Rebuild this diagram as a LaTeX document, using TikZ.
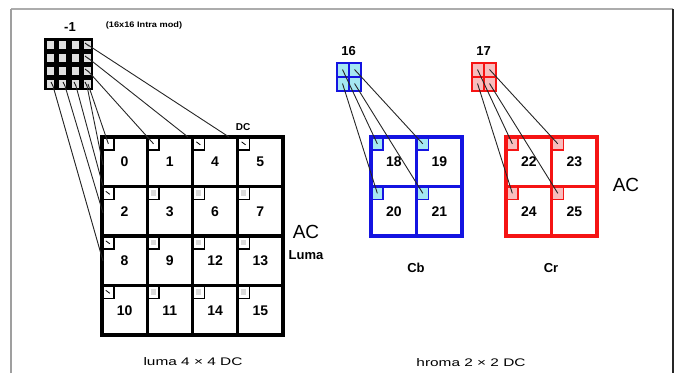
\documentclass[tikz,border=0pt]{standalone}
\usepackage{fontspec}
\setmainfont{Liberation Sans}
\definecolor{cbblue}{RGB}{20,20,225}
\definecolor{cbfill}{RGB}{165,232,242}
\definecolor{crred}{RGB}{245,20,20}
\definecolor{crfill}{RGB}{248,190,190}
\begin{document}
\begin{tikzpicture}[x=1pt,y=-1pt,
  num/.style={font=\fontsize{14}{16}\selectfont\bfseries, inner sep=0pt},
  gridline/.style={line width=3.2pt},
  cornerbox/.style={draw, line width=1.7pt, minimum width=11pt, minimum height=12pt, inner sep=0pt, anchor=north west},
  conn/.style={line width=0.9pt, black!85},
  tick/.style={line width=0.8pt, black},
  caption/.style={font=\fontsize{11}{13}\selectfont, inner sep=0pt}]
\useasboundingbox (0,0) rectangle (682,373);

% frame
\draw[gray!65, line width=1.2pt] (11,9) -- (673,9);
\draw[gray!75, line width=2pt] (11,373) -- (11,9);
\draw[black!85, line width=1.5pt] (673,9) -- (673,373);

% ---------- luma: 16x16 intra block (-1) ----------
\fill[black] (44,38) rectangle (93,90);
\foreach \r in {0,...,3} {
  \foreach \c in {0,...,3} {
    \fill[gray!25] (47+\c*12.25,41+\r*13) rectangle ++(7,7.5);
  }
}
% start points of the DC links
\coordinate (sr0) at (88,45);
\coordinate (sr1) at (88,58);
\coordinate (sr2) at (88,71);
\coordinate (sr3) at (88,84);
\coordinate (sb0) at (53,86);
\coordinate (sb1) at (65,86);
\coordinate (sb2) at (76,86);
\coordinate (sb3) at (87,86);
\foreach \p in {sr0,sr1,sr2} \draw[tick] (\p) ++(-3,-2) -- ++(4,3);
\foreach \p in {sb0,sb1,sb2,sb3} \draw[tick] (\p) ++(-2,-4) -- ++(2,4);

\node[font=\fontsize{13}{15}\selectfont\bfseries] (m1) at (70,27) {-1};
\node[font=\fontsize{8}{10}\selectfont\bfseries, xscale=1.15] (intra) at (144,25) {(16x16 Intra mod)};

% ---------- luma 4x4 DC grid ----------
\foreach \n [count=\i from 0] in {0,1,4,5,2,3,6,7,8,9,12,13,10,11,14,15} {
  \pgfmathtruncatemacro\r{int(\i/4)}
  \pgfmathtruncatemacro\c{mod(\i,4)}
  \pgfmathsetmacro\x{102+\c*45.25}
  \pgfmathsetmacro\y{137+\r*49.5}
  \node[num] (L\n) at (\x+22.6,\y+24.9) {\n};
  \node[cornerbox] (b\n) at (\x,\y) {};
  \ifnum\r=0 \else\ifnum\c=0 \else
    \fill[gray!30] (\x+3.5,\y+3.5) rectangle ++(5,5.5);
  \fi\fi
}
\draw[gridline] (102,137) rectangle (283,335);
\foreach \k in {1,2,3} {
  \draw[gridline] (102+\k*45.25,137) -- (102+\k*45.25,335);
  \draw[gridline] (102,137+\k*49.5) -- (283,137+\k*49.5);
}
\foreach \n in {4,5,2,8,10} \draw[tick] (b\n.center) ++(-2.5,-2) -- ++(4,3);

\node[font=\fontsize{10}{12}\selectfont\bfseries] (dc) at (243,127) {DC};
\node[font=\fontsize{19}{21}\selectfont] (acl) at (306,232) {AC};
\node[font=\fontsize{13}{15}\selectfont\bfseries] (luma) at (306,255) {Luma};
\node[caption, xscale=1.4] (capl) at (193,362) {luma 4 × 4 DC};

% DC links, luma
\coordinate (tA) at (b0.center);
\coordinate (tB) at (b1.center);
\coordinate (tC) at (188,137);
\coordinate (tD) at (229,137);
\coordinate (lA) at (103,165);
\coordinate (lB) at (103,186);
\coordinate (lC) at (103,213);
\coordinate (lD) at (103,261);
\draw[conn] (sr0) -- (tD);
\draw[conn] (sr1) -- (tC);
\draw[conn] (sr2) -- (tB);
\draw[conn] (sr3) -- (tA);
\draw[conn] (sb3) -- (lA);
\draw[conn] (sb2) -- (lB);
\draw[conn] (sb1) -- (lC);
\draw[conn] (sb0) -- (lD);

% ---------- chroma 2x2 DC: Cb and Cr ----------
\foreach \tag/\sx/\bx/\col/\fil/\lab/\nums in
   {cb/337/371/cbblue/cbfill/16/{18,19,20,21},
    cr/472/506/crred/crfill/17/{22,23,24,25}} {
  % small 2x2 block
  \foreach \r in {0,1} {
    \foreach \c in {0,1} {
      \filldraw[draw=\col, fill=\fil, line width=2pt]
        (\sx+\c*12,63+\r*14) rectangle ++(12,14);
      \coordinate (\tag s\r\c) at (\sx+5.5+\c*12,69.5+\r*14);
    }
  }
  \node[font=\fontsize{13}{15}\selectfont\bfseries] (\tag lab) at (\sx+11.5,51) {\lab};
  % 2x2 grid with corner boxes
  \foreach \n [count=\i from 0] in \nums {
    \pgfmathtruncatemacro\r{int(\i/2)}
    \pgfmathtruncatemacro\c{mod(\i,2)}
    \pgfmathsetmacro\x{\bx+\c*45.5}
    \pgfmathsetmacro\y{137+\r*49.5}
    \node[num] (C\n) at (\x+22.8,\y+24.9) {\n};
    \node[cornerbox, draw=\col, fill=\fil] (\tag b\i) at (\x,\y) {};
  }
  \draw[gridline, draw=\col] (\bx,137) rectangle (\bx+91,236);
  \draw[gridline, draw=\col] (\bx+45.5,137) -- (\bx+45.5,236);
  \draw[gridline, draw=\col] (\bx,186.5) -- (\bx+91,186.5);
  % DC links
  \draw[conn] (\tag s00) -- (\tag b0.center);
  \draw[conn] (\tag s01) -- (\tag b1.center);
  \draw[conn] (\tag s10) -- (\tag b2.center);
  \draw[conn] (\tag s11) -- (\tag b3.center);
}
\node[font=\fontsize{13}{15}\selectfont\bfseries] (cb) at (416,268) {Cb};
\node[font=\fontsize{13}{15}\selectfont\bfseries] (cr) at (551,268) {Cr};
\node[font=\fontsize{19}{21}\selectfont] (acc) at (626,185) {AC};
\node[caption, xscale=1.4] (capc) at (471,363) {hroma 2 × 2 DC};
\end{tikzpicture}
\end{document}
